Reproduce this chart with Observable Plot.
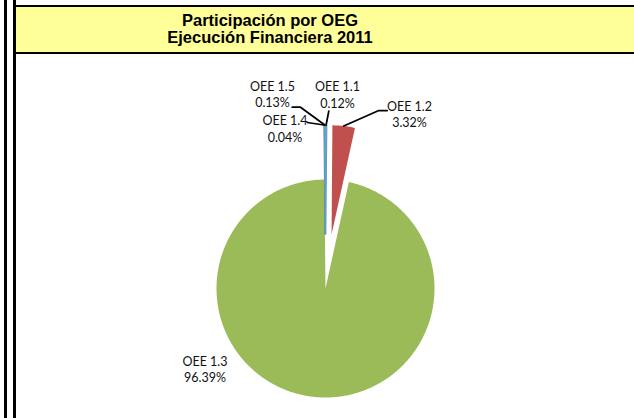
<!DOCTYPE html>
<html><head><meta charset="utf-8">
<script src="https://cdn.jsdelivr.net/npm/d3@7"></script>
<script src="https://cdn.jsdelivr.net/npm/@observablehq/plot@0.6"></script>
<style>
body{margin:0;background:#fff;}
#wrap{position:relative;width:634px;height:418px;overflow:hidden;background:#fff;}
.vline{position:absolute;top:0;height:418px;width:3px;background:#000;}
#titlebox{position:absolute;left:13px;top:5px;width:640px;height:45px;background:#FFFF99;border-top:2px solid #000;border-bottom:2px solid #000;border-left:3px solid #000;}
#title{position:absolute;left:0;width:540px;top:12px;text-align:center;font:bold 16.5px "Liberation Sans",Arial,sans-serif;line-height:17px;color:#000;}
#chart{position:absolute;left:0;top:0;}
</style></head>
<body>
<div id="wrap">
  <div id="chart"></div>
  <div class="vline" style="left:4px"></div>
  <div class="vline" style="left:13px"></div>
  <div id="titlebox"></div>
  <div id="title">Participación por OEG<br>Ejecución Financiera 2011</div>
</div>
<script>
// ---- data ----
const categories = ["OEE 1.1", "OEE 1.2", "OEE 1.3", "OEE 1.4", "OEE 1.5"];
const shares = [0.12, 3.32, 96.39, 0.04, 0.13];
const shareLabels = ["0.12%", "3.32%", "96.39%", "0.04%", "0.13%"];

// ---- styles / layout ----
const colors = ["#4F81BD", "#C0504D", "#9BBB59", "#8064A2", "#4BACC6"];
const exploded = [true, true, false, true, true];
const W = 634, H = 418, CX = 325, CY = 288, R = 109, EXPLODE = 0.5;
const FS = 12.5, LH = 16.5;
// label center x and first baseline y
const labelLayout = [[337, 89.3], [409, 109], [204.5, 364], [284.5, 123.3], [272, 89]];
// leader line elbows (from slice outward); null = no leader
const leaderLayout = [
  [[328.3, 110.7]],
  [[378.3, 110], [386.7, 110]],
  null,
  [[306.7, 122]],
  [[300, 106.7], [291.7, 106.7]]
];

const rows = categories.map((c, i) => ({key: c, share: shares[i], label: shareLabels[i], color: colors[i], i}));
const arcs = d3.pie().sort(null).value(d => d.share)(rows);

const slicePts = [];
const anchors = [];
arcs.forEach(a => {
  const i = a.data.i;
  const mid = (a.startAngle + a.endAngle) / 2;
  const off = exploded[i] ? EXPLODE * R : 0;
  const ox = CX + off * Math.sin(mid), oy = CY - off * Math.cos(mid);
  const n = Math.max(2, Math.ceil((a.endAngle - a.startAngle) / 0.01));
  slicePts.push({key: a.data.key, x: ox, y: oy});
  for (let k = 0; k <= n; k++) {
    const ang = a.startAngle + (a.endAngle - a.startAngle) * k / n;
    slicePts.push({key: a.data.key, x: ox + R * Math.sin(ang), y: oy - R * Math.cos(ang)});
  }
  anchors[i] = {x: ox + R * Math.sin(mid), y: oy - R * Math.cos(mid)};
});

const leaderPts = [];
leaderLayout.forEach((el, i) => {
  if (!el) return;
  leaderPts.push({key: categories[i], ...anchors[i]});
  el.forEach(p => leaderPts.push({key: categories[i], x: p[0], y: p[1]}));
});

const labels = rows.map((r, i) => ({
  text: r.key + "\n" + r.label,
  x: labelLayout[i][0],
  y: labelLayout[i][1] + LH / 2 - 0.32 * FS
}));

const sliceMarks = rows.map((r, i) => Plot.line(slicePts.filter(p => p.key === r.key), {
  x: "x", y: "y", curve: "linear-closed",
  fill: colors[i],
  stroke: r.share < 1 ? colors[i] : "none",
  strokeWidth: r.share < 1 ? 0.8 : 0
}));

const chart = Plot.plot({
  width: W, height: H, margin: 0,
  x: {domain: [0, W], range: [0, W], axis: null},
  y: {domain: [0, H], range: [0, H], axis: null},
  style: {background: "transparent", fontFamily: "Lato, 'Open Sans', sans-serif"},
  marks: [
    ...sliceMarks,
    Plot.line(leaderPts, {x: "x", y: "y", z: "key", stroke: "#000", strokeWidth: 1.75}),
    Plot.text(labels, {x: "x", y: "y", text: "text", fontSize: FS, lineHeight: LH / FS, textAnchor: "middle", fill: "#111"})
  ]
});
document.getElementById("chart").appendChild(chart);
</script>
</body></html>
